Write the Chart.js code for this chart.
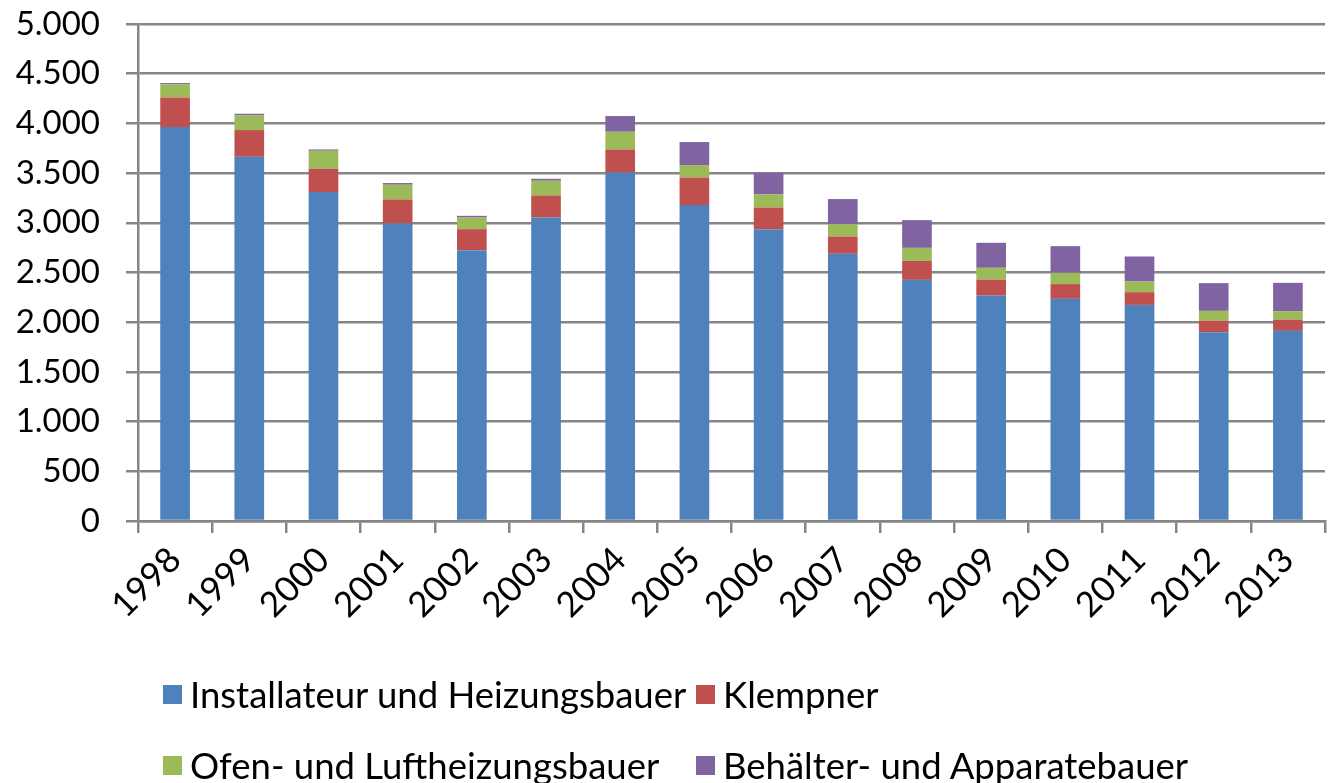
<!DOCTYPE html>
<html>
<head>
<meta charset="utf-8">
<script src="https://cdn.jsdelivr.net/npm/chart.js@4.4.0/dist/chart.umd.min.js"></script>
<style>
  html, body { margin: 0; padding: 0; background: #fff; }
  #wrap { position: relative; width: 1328px; height: 783px; }
  #legende { position: absolute; left: 0; top: 0; font-family: Lato, sans-serif; font-size: 36.5px; color: #000; }
  .eintrag { position: absolute; display: flex; align-items: center; white-space: nowrap; transform: translateY(-50%); }
  .kasten { width: 19px; height: 19px; margin-right: 8px; }
</style>
</head>
<body>
<div id="wrap">
  <canvas id="Betriebe" width="1328" height="783"></canvas>
  <div id="legende"></div>
</div>
<script>
var jahre = ['1998', '1999', '2000', '2001', '2002', '2003', '2004', '2005', '2006', '2007', '2008', '2009', '2010', '2011', '2012', '2013'];

var installateur = [3963, 3664, 3309, 2993, 2725, 3053, 3507, 3178, 2936, 2688, 2426, 2268, 2235, 2174, 1900, 1913];
var klempner     = [298, 269, 235, 242, 211, 222, 231, 278, 218, 174, 191, 161, 148, 128, 116, 113];
var ofenbauer    = [131, 147, 181, 148, 117, 148, 178, 125, 131, 125, 131, 118, 114, 107, 98, 85];
var behaelter    = [14, 17, 13, 17, 17, 20, 158, 231, 218, 252, 279, 252, 268, 252, 279, 285];

var namen = ['Installateur und Heizungsbauer', 'Klempner', 'Ofen- und Luftheizungsbauer', 'Behälter- und Apparatebauer'];
var farben = ['#4F81BD', '#C0504D', '#9BBB59', '#8064A2'];

var grau = '#868686';
var schriftY = { family: 'Lato, sans-serif', size: 33 };
var schriftX = { family: 'Lato, sans-serif', size: 35 };

var ctx = document.getElementById('Betriebe').getContext('2d');
var Betriebe =
    new Chart(ctx,
                {
                    type: 'bar',
                    data: {
                        labels: jahre,
                        datasets: [
                            { label: namen[0], data: installateur, backgroundColor: farben[0] },
                            { label: namen[1], data: klempner, backgroundColor: farben[1] },
                            { label: namen[2], data: ofenbauer, backgroundColor: farben[2] },
                            { label: namen[3], data: behaelter, backgroundColor: farben[3] }
                        ]
                    },
                    options: {
                        responsive: false,
                        animation: false,
                        datasets: {
                            bar: { categoryPercentage: 1, barPercentage: 0.4 }
                        },
                        layout: {
                            padding: { left: 0, right: 3, top: 24, bottom: 122 }
                        },
                        plugins: {
                            legend: { display: false },
                            tooltip: { enabled: false }
                        },
                        scales: {
                            x: {
                                stacked: true,
                                afterFit: function (s) { s.height = 140; s.paddingLeft = 0; s.paddingRight = 0; },
                                grid: { drawOnChartArea: false, color: grau, lineWidth: 2.5, tickLength: 12, offset: true },
                                border: { color: grau, width: 2.5 },
                                ticks: { color: '#000', font: schriftX, minRotation: 45, maxRotation: 45, padding: 6 }
                            },
                            y: {
                                stacked: true,
                                min: 0,
                                max: 5000,
                                afterFit: function (s) { s.width = 138; s.paddingTop = 0; s.paddingBottom = 0; },
                                grid: { color: grau, lineWidth: 2.5, tickLength: 12 },
                                border: { color: grau, width: 2.5 },
                                ticks: {
                                    stepSize: 500,
                                    color: '#000',
                                    font: schriftY,
                                    padding: 26,
                                    callback: function (v) { return v.toLocaleString('de-DE'); }
                                }
                            }
                        }
                    }
                });

// Legende als HTML, zwei Spalten wie im Original
var spalten = [163, 696];
var zeilen = [694, 765];
var legende = document.getElementById('legende');
Betriebe.data.datasets.forEach(function (ds, i) {
    var el = document.createElement('div');
    el.className = 'eintrag';
    el.style.left = spalten[i % 2] + 'px';
    el.style.top = zeilen[Math.floor(i / 2)] + 'px';
    el.innerHTML = '<span class="kasten" style="background:' + ds.backgroundColor + '"></span><span>' + ds.label + '</span>';
    legende.appendChild(el);
});
</script>
</body>
</html>
